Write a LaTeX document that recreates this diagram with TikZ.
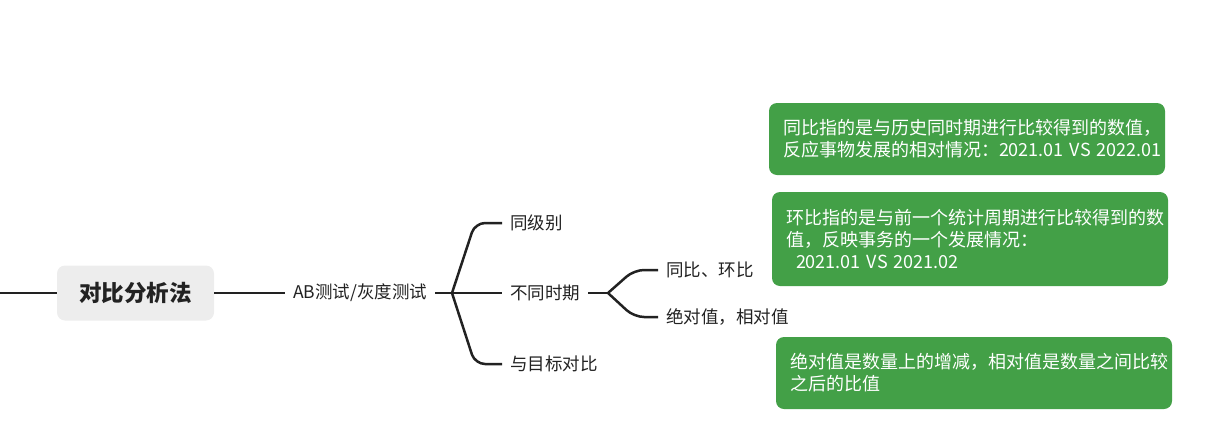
\documentclass[tikz,border=0pt]{standalone}
\usepackage{fontspec}
\setmainfont{Noto Sans CJK SC}
\usetikzlibrary{positioning}
\definecolor{notegreen}{RGB}{67,160,71}
\definecolor{rootgray}{RGB}{237,237,237}
\definecolor{inkgray}{RGB}{34,34,34}
\tikzset{
    root/.style = {fill=rootgray,rounded corners=8pt,minimum width=157pt,minimum height=55pt,text=inkgray,font=\fontsize{22.5}{27}\selectfont\bfseries},
    topic/.style = {inner xsep=8pt,text=inkgray,font=\fontsize{17.5}{22}\selectfont},
    note/.style = {fill=notegreen,text=white,rounded corners=8pt,align=left,text width=368pt,inner xsep=14pt,font=\fontsize{18}{22}\selectfont}
}
\tikzset{
    branch/.style = {draw=inkgray,line width=2.5pt,rounded corners=10pt}
}
\begin{document}
\begin{tikzpicture}[x=1pt,y=-1pt]
    \useasboundingbox (0,0) rectangle (1208,437);
    % Root
    \coordinate (lend) at (0,293);
    \node[root] (root) at (135.5,293) {对比分析法};
    \node[topic] (ab) at (360,293) {AB测试/灰度测试};
    % Forks
    \coordinate (f1) at (452,293);
    \coordinate (f2) at (608,293);
    % Level 2
    \node[topic,anchor=west] (same) at (502,223) {同级别};
    \node[topic,anchor=west] (period) at (502,293) {不同时期};
    \node[topic,anchor=west] (target) at (502,364) {与目标对比};
    % Level 3
    \node[topic,anchor=west] (ratio) at (658,270) {同比、环比};
    \node[topic,anchor=west] (value) at (658,317) {绝对值，相对值};
    % Notes
    \node[note,minimum height=72pt] (yoy) at (967,139)
        {同比指的是与历史同时期进行比较得到的数值，\\反应事物发展的相对情况：2021.01~VS~2022.01};
    \node[note,minimum height=94pt] (mom) at (970,239)
        {环比指的是与前一个统计周期进行比较得到的数\\值，反映事务的一个发展情况：\\\hspace*{10pt}2021.01~VS~2021.02};
    \node[note,minimum height=72pt] (abs) at (974,373)
        {绝对值是数量上的增减，相对值是数量之间比较\\之后的比值};
    % Branches
    \draw[branch] (lend) -- (root);
    \draw[branch] (root) -- (ab);
    \draw[branch] (ab) -- (f1) -- (period);
    \foreach \dest in {same,target}
        \draw[branch] (f1) -- ([xshift=-27pt]\dest.west) -- (\dest.west);
    \draw[branch] (period) -- (f2);
    \foreach \dest in {ratio,value}
        \draw[branch] (f2) -- ([xshift=-24pt]\dest.west) -- (\dest.west);
\end{tikzpicture}
\end{document}
